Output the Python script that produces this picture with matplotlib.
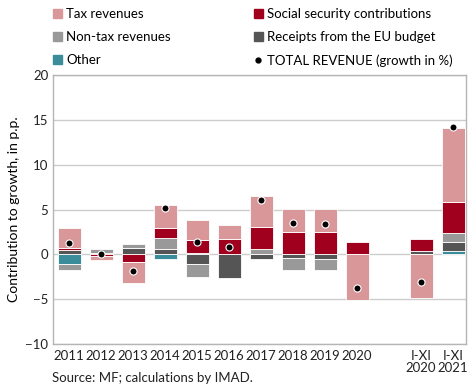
import numpy as np
import matplotlib
matplotlib.use("Agg")
import matplotlib.pyplot as plt
from matplotlib.patches import Patch
from matplotlib.lines import Line2D

plt.rcParams["font.family"] = ["Lato", "DejaVu Sans"]

labels = ["2011", "2012", "2013", "2014", "2015", "2016", "2017", "2018", "2019", "2020",
          "I-XI\n2020", "I-XI\n2021"]
positions = [0, 1, 2, 3, 4, 5, 6, 7, 8, 9, 11, 12]

# contributions to growth, p.p. (stacked from bottom: other, EU, non-tax, social, tax)
other = [-1.1, 0.0, 0.05, -0.55, 0.2, 0.0, 0.0, 0.0, 0.0, 0.0, 0.0, 0.4]
eu_budget = [0.5, 0.15, 0.7, 0.55, -1.1, -2.6, -0.55, -0.4, -0.5, 0.0, 0.4, 0.95]
non_tax = [-0.65, 0.5, 0.45, 1.3, -1.4, 0.0, 0.65, -1.3, -1.2, 0.0, 0.0, 1.05]
social = [0.25, -0.2, -0.9, 1.1, 1.35, 1.7, 2.35, 2.45, 2.45, 1.4, 1.3, 3.4]
tax = [2.2, -0.45, -2.3, 2.6, 2.25, 1.55, 3.5, 2.6, 2.6, -5.1, -4.9, 8.3]
total = [1.25, 0.0, -1.85, 5.15, 1.4, 0.8, 6.05, 3.45, 3.35, -3.7, -3.05, 14.2]

series = [
    ("Other", other, "#3a8c9a"),
    ("Receipts from the EU budget", eu_budget, "#555555"),
    ("Non-tax revenues", non_tax, "#999999"),
    ("Social security contributions", social, "#a0001e"),
    ("Tax revenues", tax, "#d9979a"),
]

fig = plt.figure(figsize=(4.75, 3.88), dpi=100)
ax = fig.add_axes([0.112, 0.113, 0.869, 0.694])

x = np.array(positions, dtype=float)
pos_base = np.zeros(len(x))
neg_base = np.zeros(len(x))
for name, vals, color in series:
    v = np.array(vals)
    bottom = np.where(v >= 0, pos_base, neg_base)
    ax.bar(x, v, bottom=bottom, width=0.71, color=color, edgecolor="white",
           linewidth=0.6, zorder=3)
    pos_base = pos_base + np.where(v >= 0, v, 0)
    neg_base = neg_base + np.where(v < 0, v, 0)

ax.scatter(x, total, s=26, color="black", edgecolor="white", linewidth=0.8, zorder=5)

ax.set_ylim(-10, 20)
ax.set_xlim(-0.5, 12.4)
ax.set_yticks(range(-10, 21, 5))
ax.set_xticks(positions)
ax.set_xticklabels(labels, linespacing=1.0)
ax.yaxis.grid(True, color="#cccccc", linewidth=1.0, zorder=0)
ax.tick_params(length=0, labelsize=9.5, colors="#222222")
ax.tick_params(axis="x", pad=4)
for s in ax.spines.values():
    s.set_color("#b5b5b5")
    s.set_linewidth(1.0)
ax.set_ylabel("Contribution to growth, in p.p.", fontsize=10, labelpad=4)

handles = [
    Patch(color="#d9979a", label="Tax revenues"),
    Patch(color="#999999", label="Non-tax revenues"),
    Patch(color="#3a8c9a", label="Other"),
    Patch(color="#a0001e", label="Social security contributions"),
    Patch(color="#555555", label="Receipts from the EU budget"),
    Line2D([], [], marker="o", linestyle="none", color="black", markersize=3.5,
           label="TOTAL REVENUE (growth in %)"),
]
fig.legend(handles=handles, ncol=2, loc="upper left", bbox_to_anchor=(0.1, 0.992),
           frameon=False, fontsize=9.5, handlelength=0.7, handleheight=0.7,
           handletextpad=0.3, columnspacing=6.3, labelspacing=0.82, borderaxespad=0)

fig.text(0.11, 0.015, "Source: MF; calculations by IMAD.", fontsize=9.5, color="#222222")

fig.savefig("out.png", dpi=100)
